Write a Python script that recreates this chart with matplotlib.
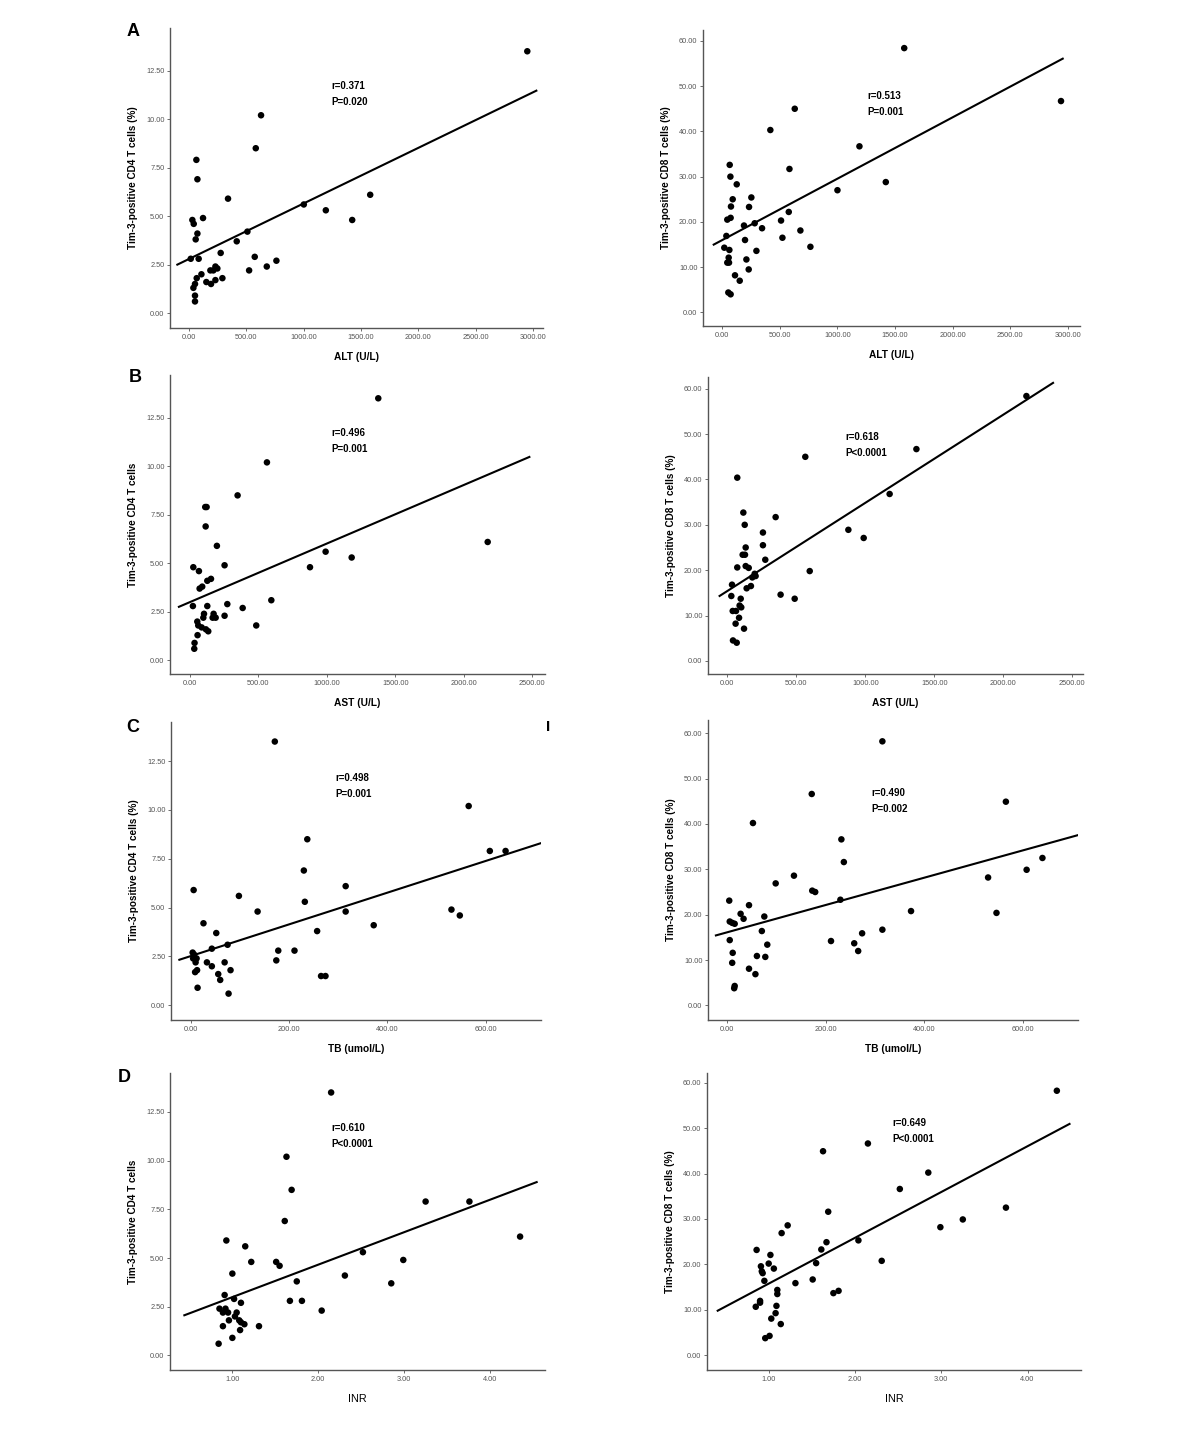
import matplotlib
matplotlib.use("Agg")
import matplotlib.pyplot as plt
from matplotlib.ticker import FormatStrFormatter, MultipleLocator

plt.rcParams.update({"font.family": ["Liberation Sans", "DejaVu Sans"],
                     "axes.linewidth": 1.0, "axes.edgecolor": "#555555"})

W, H = 1200, 1431

# ---- A: ALT (U/L)
alt_cd4_x = [2950, 628, 582, 64, 73, 340, 1580, 1001, 1193, 1423, 29, 41, 122, 73, 58, 509,
             416, 276, 15, 84, 573, 762, 678, 524, 186, 212, 230, 247, 108, 67, 291, 151,
             192, 230, 52, 38, 52, 52]
alt_cd4_y = [13.5, 10.2, 8.5, 7.9, 6.9, 5.9, 6.1, 5.6, 5.3, 4.8, 4.8, 4.6, 4.9, 4.1, 3.8, 4.2,
             3.7, 3.1, 2.8, 2.8, 2.9, 2.7, 2.4, 2.2, 2.2, 2.2, 2.4, 2.3, 2.0, 1.8, 1.8, 1.6,
             1.5, 1.7, 1.5, 1.3, 0.9, 0.6]
alt_cd8_x = [1580, 2942, 629, 417, 1191, 583, 1420, 1000, 64, 70, 125, 90, 252, 75, 232, 43,
             72, 510, 577, 188, 281, 345, 678, 35, 197, 522, 765, 17, 61, 296, 55, 209, 43,
             58, 229, 110, 151, 52, 72]
alt_cd8_y = [58.4, 46.7, 45.0, 40.3, 36.7, 31.7, 28.8, 27.0, 32.6, 30.0, 28.3, 25.0, 25.4,
             23.4, 23.3, 20.5, 20.9, 20.3, 22.2, 19.2, 19.7, 18.6, 18.1, 16.9, 16.0, 16.5,
             14.5, 14.3, 13.8, 13.6, 12.1, 11.7, 11.0, 11.0, 9.5, 8.2, 7.0, 4.4, 4.0]

# ---- B: AST (U/L)
ast_cd4_x = [1376, 564, 350, 114, 124, 117, 199, 2174, 992, 1182, 878, 27, 255, 68, 129, 156,
             73, 92, 596, 24, 129, 275, 387, 105, 100, 175, 168, 190, 255, 486, 56, 63, 88,
             119, 136, 58, 36, 34]
ast_cd4_y = [13.5, 10.2, 8.5, 7.9, 7.9, 6.9, 5.9, 6.1, 5.6, 5.3, 4.8, 4.8, 4.9, 4.6, 4.1, 4.2,
             3.7, 3.8, 3.1, 2.8, 2.8, 2.9, 2.7, 2.4, 2.2, 2.4, 2.2, 2.2, 2.3, 1.8, 2.0, 1.8,
             1.7, 1.6, 1.5, 1.3, 0.9, 0.6]
ast_cd8_x = [2167, 1370, 565, 72, 1176, 350, 877, 988, 116, 126, 258, 133, 258, 111, 128, 275,
             72, 133, 155, 198, 181, 205, 597, 171, 140, 34, 29, 386, 488, 97, 89, 101, 39,
             63, 85, 60, 121, 41, 68]
ast_cd8_y = [58.4, 46.7, 45.0, 40.4, 36.8, 31.7, 28.9, 27.1, 32.7, 30.0, 28.3, 25.0, 25.5,
             23.4, 23.4, 22.3, 20.6, 20.9, 20.5, 19.2, 18.4, 18.7, 19.8, 16.5, 16.0, 16.8,
             14.3, 14.6, 13.7, 13.7, 12.2, 11.8, 11.0, 11.0, 9.5, 8.2, 7.1, 4.5, 4.0]

# ---- C: TB (umol/L)
tb_cd4_x = [171, 565, 237, 608, 640, 230, 315, 6, 98, 232, 136, 315, 530, 547, 26, 372, 257,
            52, 75, 43, 178, 211, 4, 7, 5, 12, 10, 33, 69, 174, 43, 81, 13, 9, 56, 60, 265,
            274, 14, 77]
tb_cd4_y = [13.5, 10.2, 8.5, 7.9, 7.9, 6.9, 6.1, 5.9, 5.6, 5.3, 4.8, 4.8, 4.9, 4.6, 4.2, 4.1,
            3.8, 3.7, 3.1, 2.9, 2.8, 2.8, 2.7, 2.6, 2.4, 2.4, 2.2, 2.2, 2.2, 2.3, 2.0, 1.8,
            1.8, 1.7, 1.6, 1.3, 1.5, 1.5, 0.9, 0.6]
tb_cd8_x = [315, 172, 565, 53, 232, 237, 639, 607, 529, 136, 99, 173, 179, 230, 5, 45, 28, 34,
            76, 373, 546, 6, 11, 16, 71, 315, 274, 211, 258, 266, 6, 82, 12, 11, 61, 78, 45,
            58, 16, 15]
tb_cd8_y = [58.2, 46.6, 44.9, 40.2, 36.6, 31.6, 32.5, 29.9, 28.2, 28.6, 26.9, 25.3, 25.0,
            23.3, 23.1, 22.1, 20.2, 19.1, 19.6, 20.8, 20.4, 18.5, 18.2, 18.0, 16.4, 16.7,
            15.9, 14.2, 13.7, 12.0, 14.4, 13.4, 11.6, 9.4, 10.9, 10.7, 8.1, 6.9, 4.3, 3.8]

# ---- D: INR
inr_cd4_x = [2.15, 1.63, 1.69, 3.25, 3.76, 1.61, 4.35, 0.93, 1.15, 2.52, 1.22, 1.51, 1.55,
             2.99, 1.00, 2.31, 1.75, 2.85, 0.91, 1.02, 1.67, 1.81, 1.10, 0.85, 0.92, 0.89,
             0.95, 1.05, 2.04, 1.03, 0.96, 1.08, 1.10, 1.14, 0.89, 1.31, 1.09, 1.00, 0.84]
inr_cd4_y = [13.5, 10.2, 8.5, 7.9, 7.9, 6.9, 6.1, 5.9, 5.6, 5.3, 4.8, 4.8, 4.6, 4.9, 4.2, 4.1,
             3.8, 3.7, 3.1, 2.9, 2.8, 2.8, 2.7, 2.4, 2.4, 2.2, 2.2, 2.2, 2.3, 2.0, 1.8, 1.8,
             1.7, 1.6, 1.5, 1.5, 1.3, 0.9, 0.6]
inr_cd8_x = [4.34, 2.15, 1.63, 2.85, 2.52, 1.69, 3.75, 3.25, 2.99, 1.22, 1.15, 2.04, 1.67,
             1.61, 0.86, 1.02, 1.00, 1.06, 0.91, 1.55, 2.31, 0.92, 0.93, 0.95, 1.51, 1.31,
             1.81, 1.75, 1.10, 1.10, 0.90, 0.90, 0.85, 1.09, 1.08, 1.03, 1.14, 0.96, 1.01]
inr_cd8_y = [58.2, 46.6, 44.9, 40.2, 36.6, 31.6, 32.5, 29.9, 28.2, 28.6, 26.9, 25.3, 24.9,
             23.3, 23.2, 22.1, 20.2, 19.1, 19.6, 20.3, 20.8, 18.5, 18.1, 16.4, 16.7, 15.9,
             14.2, 13.7, 14.4, 13.5, 12.0, 11.6, 10.7, 10.9, 9.3, 8.1, 6.9, 3.8, 4.3]

# fit lines: (intercept, slope), x start, x end
fit_lines = {
    "alt_cd4": (2.79, 0.002865, -102, 3029),
    "alt_cd8": (16.0, 0.01355, -75, 2957),
    "ast_cd4": (2.996, 0.00302, -78, 2478),
    "ast_cd8": (15.4, 0.01945, -56, 2360),
    "tb_cd4": (2.52, 0.00812, -23, 712),
    "tb_cd8": (16.1, 0.03015, -22, 711),
    "inr_cd4": (1.325, 1.667, 0.441, 4.543),
    "inr_cd8": (5.72, 10.07, 0.409, 4.487),
}
stats = {
    "alt_cd4": ("r=0.371", "P=0.020"), "alt_cd8": ("r=0.513", "P=0.001"),
    "ast_cd4": ("r=0.496", "P=0.001"), "ast_cd8": ("r=0.618", "P<0.0001"),
    "tb_cd4": ("r=0.498", "P=0.001"), "tb_cd8": ("r=0.490", "P=0.002"),
    "inr_cd4": ("r=0.610", "P<0.0001"), "inr_cd8": ("r=0.649", "P<0.0001"),
}
xlabels = {"alt": "ALT (U/L)", "ast": "AST (U/L)", "tb": "TB (umol/L)", "inr": "INR"}
ylabels = {
    "alt_cd4": "Tim-3-positive CD4 T cells (%)", "alt_cd8": "Tim-3-positive CD8 T cells (%)",
    "ast_cd4": "Tim-3-positive CD4 T cells", "ast_cd8": "Tim-3-positive CD8 T cells (%)",
    "tb_cd4": "Tim-3-positive CD4 T cells (%)", "tb_cd8": "Tim-3-positive CD8 T cells (%)",
    "inr_cd4": "Tim-3-positive CD4 T cells", "inr_cd8": "Tim-3-positive CD8 T cells (%)",
}
data = {
    "alt_cd4": (alt_cd4_x, alt_cd4_y), "alt_cd8": (alt_cd8_x, alt_cd8_y),
    "ast_cd4": (ast_cd4_x, ast_cd4_y), "ast_cd8": (ast_cd8_x, ast_cd8_y),
    "tb_cd4": (tb_cd4_x, tb_cd4_y), "tb_cd8": (tb_cd8_x, tb_cd8_y),
    "inr_cd4": (inr_cd4_x, inr_cd4_y), "inr_cd8": (inr_cd8_x, inr_cd8_y),
}

# layout: key -> (left, top, right, bottom) px, xlim, ylim, xstep, text pos
panels = [
    ("alt_cd4", (170, 28, 543, 328), (-166, 3087), (-0.77, 14.7), 500, (1240, 11.7)),
    ("alt_cd8", (703, 30, 1080, 326), (-168, 3107), (-3.0, 62.4), 500, (1261, 47.9)),
    ("ast_cd4", (170, 375, 545, 674), (-143, 2592), (-0.70, 14.7), 500, (1031, 11.73)),
    ("ast_cd8", (708, 377, 1083, 674), (-140, 2577), (-2.9, 62.6), 500, (855, 49.3)),
    ("tb_cd4", (171, 722, 541, 1020), (-40, 712), (-0.75, 14.5), 200, (294, 11.64)),
    ("tb_cd8", (708, 720, 1078, 1020), (-38, 711), (-3.2, 62.9), 200, (292, 46.9)),
    ("inr_cd4", (170, 1073, 545, 1370), (0.274, 4.64), (-0.75, 14.5), 1, (2.149, 11.68)),
    ("inr_cd8", (707, 1073, 1081, 1370), (0.285, 4.62), (-3.2, 62.1), 1, (2.438, 51.0)),
]

fig = plt.figure(figsize=(W / 100, H / 100), dpi=100)

for key, (l, t, r, b), xlim, ylim, xstep, (tx, ty) in panels:
    ax = fig.add_axes([l / W, 1 - b / H, (r - l) / W, (b - t) / H])
    x, y = data[key]
    ax.scatter(x, y, s=22, color="black", edgecolors="none", zorder=3)
    b0, b1, x0, x1 = fit_lines[key]
    ax.plot([x0, x1], [b0 + b1 * x0, b0 + b1 * x1], color="black", lw=1.5, zorder=2)
    ax.set_xlim(*xlim); ax.set_ylim(*ylim)
    ax.xaxis.set_major_locator(MultipleLocator(xstep))
    ax.yaxis.set_major_locator(MultipleLocator(10 if "cd8" in key else 2.5))
    ax.xaxis.set_major_formatter(FormatStrFormatter("%.2f"))
    ax.yaxis.set_major_formatter(FormatStrFormatter("%.2f"))
    ax.tick_params(labelsize=5.3, labelcolor="#555555", color="#555555",
                   length=2.5, width=0.6, pad=1.5)
    for s in ("top", "right"):
        ax.spines[s].set_visible(False)
    var = key.split("_")[0]
    ax.set_xlabel(xlabels[var], fontsize=7.8 if var == "inr" else 7.3,
                  fontweight="normal" if var == "inr" else "bold", labelpad=8)
    ax.set_ylabel(ylabels[key], fontsize=7.2, fontweight="bold", labelpad=6)
    rtxt, ptxt = stats[key]
    ax.text(tx, ty, rtxt, fontsize=7, fontweight="bold", va="center")
    ax.annotate(ptxt, (tx, ty), xytext=(0, -11.5), textcoords="offset points",
                fontsize=7, fontweight="bold", va="center")

for letter, (px, py) in [("A", (133, 31)), ("B", (135, 378)), ("C", (133, 727)),
                         ("D", (124, 1078))]:
    fig.text(px / W, 1 - py / H, letter, fontsize=13, fontweight="bold",
             ha="center", va="center")
fig.text(548 / W, 1 - 727 / H, "I", fontsize=11, fontweight="bold", ha="center", va="center")

fig.savefig("out.png", dpi=100, facecolor="white")
